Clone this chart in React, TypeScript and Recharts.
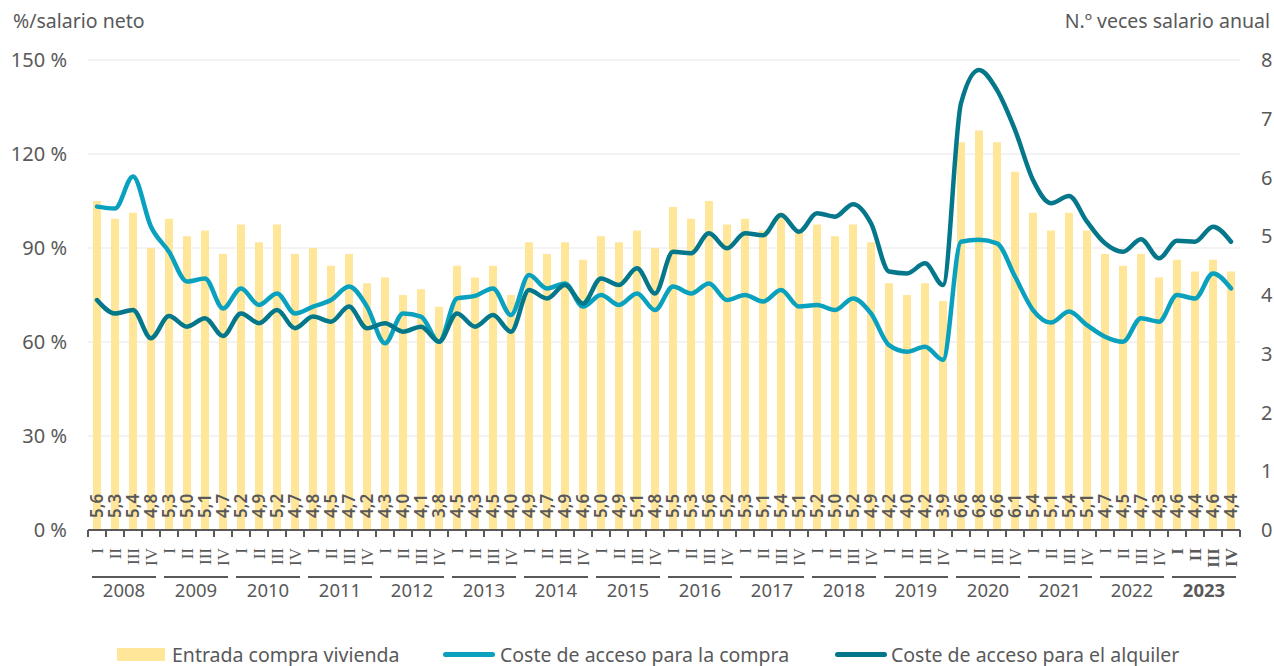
import React from "react";
import {
  ComposedChart,
  Bar,
  Line,
  XAxis,
  YAxis,
  CartesianGrid,
  LabelList,
} from "recharts";

document.body.style.margin = "0";

const years = [
  "2008", "2009", "2010", "2011", "2012", "2013", "2014", "2015",
  "2016", "2017", "2018", "2019", "2020", "2021", "2022", "2023",
];
const quarters = ["I", "II", "III", "IV"];

// N.º veces salario anual (right axis)
const entrada = [
  5.6, 5.3, 5.4, 4.8, 5.3, 5.0, 5.1, 4.7, 5.2, 4.9, 5.2, 4.7, 4.8, 4.5, 4.7, 4.2,
  4.3, 4.0, 4.1, 3.8, 4.5, 4.3, 4.5, 4.0, 4.9, 4.7, 4.9, 4.6, 5.0, 4.9, 5.1, 4.8,
  5.5, 5.3, 5.6, 5.2, 5.3, 5.1, 5.4, 5.1, 5.2, 5.0, 5.2, 4.9, 4.2, 4.0, 4.2, 3.9,
  6.6, 6.8, 6.6, 6.1, 5.4, 5.1, 5.4, 5.1, 4.7, 4.5, 4.7, 4.3, 4.6, 4.4, 4.6, 4.4,
];

// %/salario neto (left axis)
const compra = [
  103.2, 102.6, 112.8, 96.8, 88.8, 79.3, 80.3, 70.7, 77.1, 71.8, 75.5, 69.1, 71.3, 73.4, 77.7, 71.3,
  59.6, 69.1, 68.1, 60.1, 73.9, 74.7, 77.1, 68.6, 81.4, 77.1, 78.7, 71.3, 75.0, 71.8, 75.5, 70.2,
  77.7, 75.5, 78.7, 73.4, 75.0, 72.9, 76.6, 71.3, 71.8, 70.2, 73.9, 69.1, 59.0, 56.9, 58.5, 54.3,
  92.0, 92.6, 91.5, 80.9, 70.2, 66.2, 69.7, 65.4, 61.7, 60.1, 67.6, 66.5, 75.0, 73.9, 81.9, 77.1,
];

const alquiler = [
  73.4, 69.1, 70.2, 61.2, 68.3, 64.9, 67.6, 61.9, 69.1, 66.0, 70.2, 64.4, 68.1, 66.5, 71.3, 64.4,
  66.0, 63.3, 64.9, 60.1, 69.1, 64.9, 68.6, 63.3, 76.6, 73.9, 78.2, 72.3, 80.3, 78.2, 83.5, 75.5,
  88.8, 88.3, 94.7, 89.9, 94.7, 94.1, 100.5, 95.2, 101.1, 100.0, 104.0, 97.9, 82.5, 81.9, 85.1, 78.2,
  136.2, 146.8, 140.4, 127.7, 111.7, 104.3, 106.6, 98.4, 91.5, 88.8, 92.8, 86.7, 92.3, 92.0, 96.8, 92.0,
];

const leftTicks = [0, 30, 60, 90, 120, 150];
const rightTicks = [0, 1, 2, 3, 4, 5, 6, 7, 8];

const data = entrada.map((v, i) => ({
  key: `${years[Math.floor(i / 4)]}-${quarters[i % 4]}`,
  year: years[Math.floor(i / 4)],
  quarter: quarters[i % 4],
  entrada: v,
  compra: compra[i],
  alquiler: alquiler[i],
}));

const GREY = "#595959";
const BAR = "#FFE699";
const LIGHT = "#0AA1BF";
const DARK = "#04788A";
const FONT = "'Noto Sans', sans-serif";
const BAND = 18;

function QuarterTick(props: any) {
  const { x, y, index } = props;
  const row = data[index];
  if (!row) return null;
  const last = row.year === years[years.length - 1];
  const first = index % 4 === 0;
  return (
    <g>
      <line x1={x - BAND / 2} x2={x - BAND / 2} y1={y} y2={y + 7} stroke={GREY} strokeWidth={2} />
      {index === data.length - 1 && (
        <line x1={x + BAND / 2} x2={x + BAND / 2} y1={y} y2={y + 7} stroke={GREY} strokeWidth={2} />
      )}
      <text
        transform={`translate(${x + 5.5},${y + 18}) rotate(-90)`}
        textAnchor="end"
        fontFamily="'Liberation Serif', serif"
        fontSize={17}
        fontWeight={last ? 700 : 400}
        fill={GREY}
      >
        {row.quarter}
      </text>
      {first && (
        <g>
          <line
            x1={x - BAND / 2 + 4}
            x2={x + 3 * BAND + BAND / 2 - 4}
            y1={y + 47}
            y2={y + 47}
            stroke={GREY}
            strokeWidth={2}
          />
          <text
            x={x + 1.5 * BAND}
            y={y + 67}
            textAnchor="middle"
            fontFamily={FONT}
            fontSize={18.5}
            fontWeight={last ? 700 : 400}
            fill={GREY}
          >
            {row.year}
          </text>
        </g>
      )}
    </g>
  );
}

function BarValue(props: any) {
  const { x, y, width, height, value } = props;
  const cx = x + width / 2;
  const bottom = y + height;
  return (
    <text
      transform={`translate(${cx + 6},${bottom - 12}) rotate(-90)`}
      textAnchor="start"
      fontFamily={FONT}
      fontSize={17}
      fontWeight={600}
      fill={GREY}
    >
      {Number(value).toFixed(1).replace(".", ",")}
    </text>
  );
}

export default function App() {
  return (
    <div style={{ position: "relative", width: 1274, height: 666, fontFamily: FONT, color: GREY }}>
      <div style={{ position: "absolute", left: 13, top: 7, fontSize: 19.5 }}>%/salario neto</div>
      <div style={{ position: "absolute", right: 4, top: 7, fontSize: 19.5 }}>N.º veces salario anual</div>
      <ComposedChart
        width={1274}
        height={666}
        data={data}
        margin={{ top: 60, right: 0, left: 8, bottom: 56 }}
        barCategoryGap={0}
      >
        <CartesianGrid yAxisId="left" vertical={false} stroke="#EFEFEF" strokeWidth={1.5} />
        <XAxis
          dataKey="key"
          interval={0}
          tickLine={false}
          tickSize={0}
          tickMargin={0}
          axisLine={{ stroke: GREY, strokeWidth: 2 }}
          tick={<QuarterTick />}
          height={80}
        />
        <YAxis
          yAxisId="left"
          domain={[0, 150]}
          ticks={leftTicks}
          width={80}
          axisLine={false}
          tickLine={false}
          tickSize={0}
          tickMargin={21}
          tickFormatter={(v) => `${v} %`}
          tick={{ fill: GREY, fontSize: 20, fontFamily: FONT }}
        />
        <YAxis
          yAxisId="right"
          orientation="right"
          domain={[0, 8]}
          ticks={rightTicks}
          width={34}
          axisLine={false}
          tickLine={false}
          tickSize={0}
          tickMargin={21}
          tick={{ fill: GREY, fontSize: 20, fontFamily: FONT }}
        />
        <Bar yAxisId="right" dataKey="entrada" fill={BAR} barSize={8} isAnimationActive={false}>
          <LabelList dataKey="entrada" content={<BarValue />} />
        </Bar>
        <Line
          yAxisId="left"
          type="monotone"
          dataKey="compra"
          stroke={LIGHT}
          strokeWidth={4.5}
          strokeLinecap="round"
          dot={false}
          isAnimationActive={false}
        />
        <Line
          yAxisId="left"
          type="monotone"
          dataKey="alquiler"
          stroke={DARK}
          strokeWidth={4.5}
          strokeLinecap="round"
          dot={false}
          isAnimationActive={false}
        />
      </ComposedChart>
      <div style={{ position: "absolute", top: 644, left: 0, width: 1274, height: 21, fontSize: 19.5, lineHeight: "21px" }}>
        <div style={{ position: "absolute", left: 117, top: 4, width: 48, height: 13, background: BAR }} />
        <div style={{ position: "absolute", left: 172, top: 0 }}>Entrada compra vivienda</div>
        <div style={{ position: "absolute", left: 443, top: 8, width: 52, height: 5, borderRadius: 3, background: LIGHT }} />
        <div style={{ position: "absolute", left: 500, top: 0 }}>Coste de acceso para la compra</div>
        <div style={{ position: "absolute", left: 835, top: 8, width: 52, height: 5, borderRadius: 3, background: DARK }} />
        <div style={{ position: "absolute", left: 891, top: 0 }}>Coste de acceso para el alquiler</div>
      </div>
    </div>
  );
}
